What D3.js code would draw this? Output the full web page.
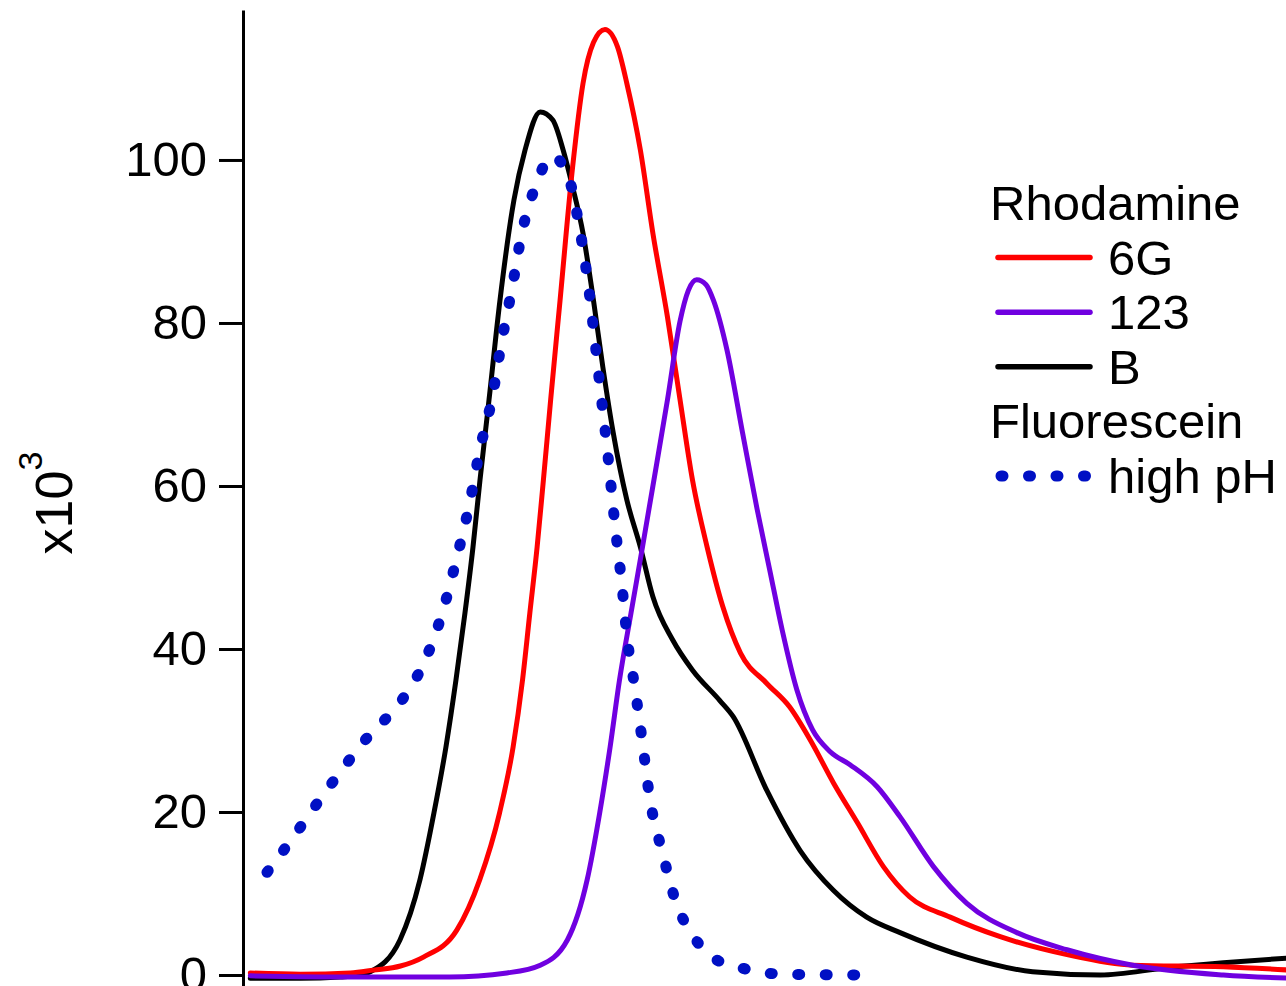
<!DOCTYPE html>
<html>
<head>
<meta charset="utf-8">
<script src="https://cdn.jsdelivr.net/npm/d3@7"></script>
<style>
  body { margin: 0; background: #fff; }
  text { font-family: "Liberation Sans", Arial, sans-serif; fill: #000; }
</style>
</head>
<body>
<div id="chart-area"></div>
<script>
// Spectra, [x (arbitrary units), intensity x10^3]
const rhodamine6G = [
    [0.7, 0.25], [5.5, 0.1], [10.3, 0.25], [12.5, 0.6], [15.1, 1.1], [17.3, 2.2],
    [20.5, 5.5], [22.7, 11.7], [24.6, 19.9], [25.9, 28.0], [26.8, 36.2], [27.5, 44.4],
    [28.2, 52.5], [28.8, 60.7], [29.5, 70.6], [30.4, 82.8], [31.6, 99.1], [32.6, 109.4],
    [33.6, 114.4], [34.7, 116.0], [35.9, 113.9], [36.8, 109.4], [38.1, 101.2], [39.3, 91.0],
    [40.7, 80.7], [41.9, 70.6], [43.1, 60.7], [44.5, 52.5], [46.0, 45.2], [47.7, 39.5],
    [50.2, 35.8], [52.4, 32.9], [54.4, 28.8], [56.6, 23.6], [58.9, 18.7], [61.4, 13.3],
    [63.9, 9.6], [67.8, 7.1], [72.6, 4.7], [79.0, 2.5], [85.3, 1.2], [94.0, 1.0], [100.4, 0.6]
];

const rhodamine123 = [
    [0.7, -0.1], [10.3, -0.25], [19.8, -0.25], [25.3, 0.25], [28.5, 1.2], [31.1, 4.3],
    [33.0, 11.7], [34.2, 19.9], [35.2, 28.0], [36.1, 36.2], [37.2, 44.4], [38.3, 52.5],
    [39.3, 60.0], [40.7, 70.6], [41.9, 80.2], [42.7, 84.0], [43.5, 85.3], [44.4, 84.7],
    [45.1, 82.8], [46.4, 76.7], [47.9, 66.5], [49.3, 57.1], [50.5, 49.7], [51.7, 42.3],
    [53.1, 35.0], [54.6, 30.1], [56.3, 27.4], [58.2, 25.8], [60.8, 23.1], [63.0, 19.4],
    [66.2, 13.3], [69.4, 8.8], [74.2, 5.2], [79.0, 3.1], [85.3, 1.2], [94.0, 0.0], [100.4, -0.4]
];

const rhodamineB = [
    [0.7, -0.4], [5.5, -0.4], [9.3, -0.25], [11.2, 0.0], [12.2, 0.4], [15.05, 4.3],
    [16.97, 11.7], [18.31, 19.9], [19.46, 28.0], [20.42, 36.2], [21.28, 44.4], [22.05, 52.5],
    [22.72, 60.7], [23.59, 70.6], [24.64, 82.8], [25.98, 95.1], [27.04, 101.2], [28.5, 105.9],
    [29.7, 104.9], [30.7, 101.2], [31.6, 96.7], [32.6, 91.0], [33.6, 82.8], [34.5, 74.6],
    [35.5, 66.5], [36.8, 58.3], [38.1, 52.5], [39.3, 46.4], [41.2, 41.1], [43.1, 37.4],
    [45.7, 33.7], [47.0, 31.7], [50.2, 22.7], [53.4, 15.3], [56.6, 10.4], [59.8, 7.1],
    [63.0, 5.2], [69.4, 2.2], [75.7, 0.4], [82.2, 0.0], [88.6, 0.9], [94.0, 1.5], [100.4, 2.1]
];

const fluoresceinHighPH = [
    [2.3, 12.6], [4.3, 16.0], [7.7, 22.1], [11.5, 28.5], [15.7, 34.6], [17.2, 37.9],
    [19.1, 44.4], [20.5, 51.2], [21.7, 57.7], [22.7, 64.4], [23.9, 70.9], [24.8, 77.7],
    [25.8, 84.3], [26.7, 90.8], [28.2, 97.3], [29.6, 100.5], [31.2, 97.9], [32.3, 91.4],
    [33.1, 84.7], [33.7, 78.2], [34.3, 71.4], [34.9, 64.8], [35.7, 54.8], [36.3, 48.2],
    [36.8, 41.7], [37.6, 35.0], [38.3, 28.5], [39.0, 21.7], [40.2, 15.1], [41.6, 8.6],
    [42.9, 5.3], [45.0, 2.2], [47.7, 0.9], [51.8, 0.1], [60.8, 0.0]
];

// Legend groups and entries
const legendGroups = ['Rhodamine', 'Fluorescein'];
const seriesNames = ['6G', '123', 'B', 'high pH'];
const seriesGroup = ['Rhodamine', 'Rhodamine', 'Rhodamine', 'Fluorescein'];
const seriesColors = ['#ff0000', '#7000e0', '#000000', '#0010c4'];
const seriesDotted = [false, false, false, true];
const seriesData = [rhodamine6G, rhodamine123, rhodamineB, fluoresceinHighPH];

// Y ticks
const yTicks = [0, 20, 40, 60, 80, 100];

// Build Margin
const totalWidth = 1286;
const totalHeight = 986;
const margin = { left: 243, right: 0, top: 10, bottom: 0 };
const width = totalWidth - margin.left - margin.right;
const height = totalHeight - margin.top - margin.bottom;

const svg = d3.select('#chart-area')
    .append('svg')
    .attr('width', totalWidth)
    .attr('height', totalHeight)
    .style('display', 'block');

svg.append('rect')
    .attr('width', totalWidth)
    .attr('height', totalHeight)
    .attr('fill', '#fff');

const g = svg.append('g')
    .attr('transform', 'translate(' + margin.left + ', ' + margin.top + ')');

// X Scale (no axis drawn)
const x = d3.scaleLinear()
    .domain([0, 100])
    .range([0, width]);

// Y Scale
const y = d3.scaleLinear()
    .domain([-1.35, 118.4])
    .range([height, 0]);

// Lines
const line = d3.line()
    .x((d) => x(d[0]))
    .y((d) => y(d[1]))
    .curve(d3.curveMonotoneX);

const drawOrder = [2, 0, 1, 3];
drawOrder.forEach((i) => {
    g.append('path')
        .datum(seriesData[i])
        .attr('fill', 'none')
        .attr('stroke', seriesColors[i])
        .attr('stroke-width', seriesDotted[i] ? 11 : 5)
        .attr('stroke-linecap', 'round')
        .attr('stroke-linejoin', 'round')
        .attr('stroke-dasharray', seriesDotted[i] ? '2 25.5' : null)
        .attr('d', line);
});

// Y Axis
const yAxisCall = d3.axisLeft(y)
    .tickValues(yTicks)
    .tickSize(24)
    .tickSizeOuter(0)
    .tickPadding(12)
    .tickFormat((d) => d);
const yAxis = g.append('g')
    .attr('class', 'y axis')
    .call(yAxisCall);
yAxis.select('.domain').attr('stroke', '#000').attr('stroke-width', 3);
yAxis.selectAll('.tick line').attr('stroke', '#000').attr('stroke-width', 3);
yAxis.selectAll('.tick text')
    .attr('font-size', '49px')
    .attr('font-family', '"Liberation Sans", Arial, sans-serif')
    .attr('fill', '#000');

// Y Label
const yLabel = svg.append('text')
    .attr('transform', 'translate(72, 503) rotate(-90)')
    .attr('text-anchor', 'middle')
    .attr('font-size', '52px');
yLabel.append('tspan').text('x10');
yLabel.append('tspan')
    .attr('font-size', '34px')
    .attr('dy', -30)
    .text('3');

// Legend
const legend = svg.append('g')
    .attr('transform', 'translate(990, 220)');
const rowH = 54.6;
let row = 0;
legendGroups.forEach((grp) => {
    legend.append('text')
        .attr('x', 0)
        .attr('y', row * rowH)
        .attr('font-size', '49px')
        .text(grp);
    row++;
    seriesNames.forEach((name, i) => {
        if (seriesGroup[i] !== grp) return;
        const ly = row * rowH - 17;
        legend.append('line')
            .attr('x1', seriesDotted[i] ? 11 : 8)
            .attr('x2', seriesDotted[i] ? 96 : 100)
            .attr('y1', ly)
            .attr('y2', ly)
            .attr('stroke', seriesColors[i])
            .attr('stroke-width', seriesDotted[i] ? 11 : 5.5)
            .attr('stroke-linecap', 'round')
            .attr('stroke-dasharray', seriesDotted[i] ? '2 25.5' : null);
        legend.append('text')
            .attr('x', 118)
            .attr('y', row * rowH)
            .attr('font-size', '49px')
            .text(name);
        row++;
    });
});
</script>
</body>
</html>
